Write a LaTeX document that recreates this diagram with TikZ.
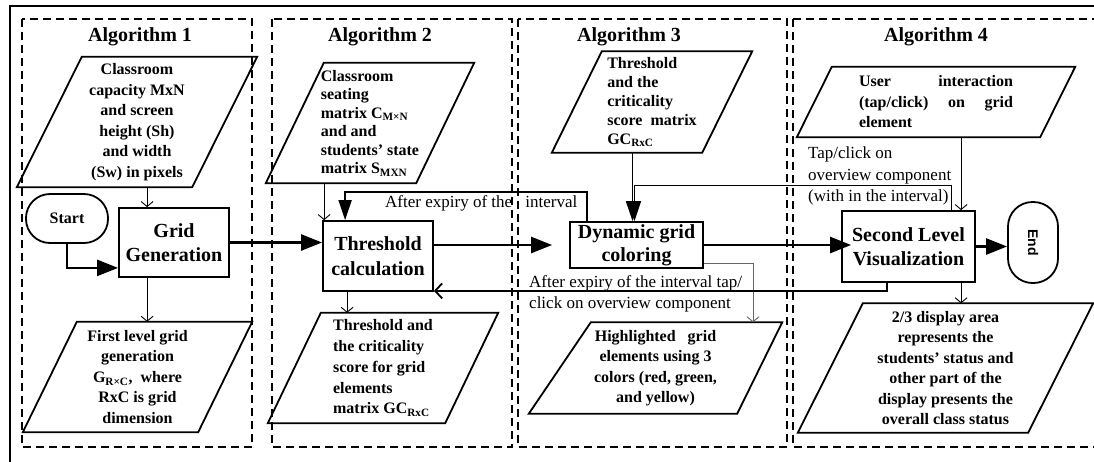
\documentclass[tikz,border=0pt]{standalone}
\usepackage{fontspec}
\setmainfont{Liberation Serif}
\newfontfamily\endfont{Liberation Sans}
\usetikzlibrary{arrows.meta}
\usetikzlibrary{calc}

\tikzset{
  panel/.style={draw, line width=1.2pt, dash pattern=on 8pt off 5pt},
  io/.style={inner sep=0pt, font=\bfseries\fontsize{16}{20.5}\selectfont, align=center},
  ioline/.style={line width=1.8pt, line join=miter},
  process/.style={draw, line width=1.8pt, font=\bfseries\fontsize{20}{24.5}\selectfont,
    align=center, inner sep=0pt},
  terminal/.style={draw, line width=1.8pt, inner sep=0pt},
  algtitle/.style={font=\bfseries\fontsize{20}{24}\selectfont},
  note/.style={font=\fontsize{17}{21.5}\selectfont, align=left, inner sep=0pt},
  flowline/.style={line width=2.5pt, -{Triangle[length=21pt,width=16pt]}},
  feedline/.style={line width=1.8pt, -{Triangle[length=20pt,width=13pt]}},
  tapline/.style={line width=1.2pt, -{Triangle[length=20pt,width=13pt]}},
  dataline/.style={line width=0.9pt, -{Straight Barb[length=5pt,width=12pt]}},
  loopline/.style={line width=1.8pt, -{Straight Barb[length=7pt,width=15pt]}},
  greyline/.style={line width=0.9pt, black!60, -{Straight Barb[length=5pt,width=12pt]}},
}

\begin{document}
\begin{tikzpicture}[x=1pt, y=-1pt]
  \useasboundingbox (0,0) rectangle (1094,461);
  \clip (0,0) rectangle (1094,461);
  \fill[white] (0,0) rectangle (1094,461);

  % frame and the four algorithm panels
  \draw[line width=2pt] (10,6) rectangle (1110,475);
  \foreach \xa/\xb in {22/252, 272/512, 518/787, 793/1110}
    \draw[panel] (\xa,19) rectangle (\xb,447);

  \node[algtitle] (t1) at (140,37) {Algorithm 1};
  \node[algtitle] (t2) at (380,37) {Algorithm 2};
  \node[algtitle] (t3) at (629,37) {Algorithm 3};
  \node[algtitle] (t4) at (936,37) {Algorithm 4};

  % Algorithm 1
  \node[io, minimum width=240pt, minimum height=130pt] (in1) at (137,122)
    {Classroom\\capacity MxN\\and screen\\height (Sh)\\and width\\(Sw) in pixels};
  \draw[ioline] ([xshift=65pt]in1.north west) -- (in1.north east)
    -- ([xshift=-65pt]in1.south east) -- (in1.south west) -- cycle;
  \node[terminal, minimum width=82pt, minimum height=49pt, rounded corners=24pt,
    font=\bfseries\fontsize{16}{19}\selectfont] (start) at (67,218.5) {Start};
  \node[process, minimum width=110pt, minimum height=69pt] (grid) at (174,242.5) {Grid\\Generation};
  \node[io, minimum width=229pt, minimum height=110pt] (out1) at (137.5,377)
    {First level grid\\generation\\G\textsubscript{R×C},\ \ where\\RxC is grid\\dimension};
  \draw[ioline] ([xshift=54pt]out1.north west) -- (out1.north east)
    -- ([xshift=-54pt]out1.south east) -- (out1.south west) -- cycle;

  % Algorithm 2
  \node[io, align=left, font=\bfseries\fontsize{16}{18.5}\selectfont,
    minimum width=208pt, minimum height=120pt] (in2) at (370,123)
    {Classroom\\seating\\matrix C\textsubscript{M×N}\\and and\\students’ state\\matrix S\textsubscript{MXN}};
  \draw[ioline] ([xshift=58pt]in2.north west) -- (in2.north east)
    -- ([xshift=-58pt]in2.south east) -- (in2.south west) -- cycle;
  \node[process, minimum width=110pt, minimum height=70pt] (thr) at (378,256) {Threshold\\calculation};
  \node[io, align=left, font=\bfseries\fontsize{16}{20.8}\selectfont,
    minimum width=230pt, minimum height=110pt] (out2) at (383,368)
    {Threshold and\\the criticality\\score for grid\\elements\\matrix GC\textsubscript{RxC}};
  \draw[ioline] ([xshift=53pt]out2.north west) -- (out2.north east)
    -- ([xshift=-53pt]out2.south east) -- (out2.south west) -- cycle;

  % Algorithm 3
  \node[io, align=left, font=\bfseries\fontsize{16}{19}\selectfont,
    minimum width=200pt, minimum height=101pt] (in3) at (652,102)
    {Threshold\\and the\\criticality\\score\ \ matrix\\GC\textsubscript{RxC}};
  \draw[ioline] ([xshift=50pt]in3.north west) -- (in3.north east)
    -- ([xshift=-50pt]in3.south east) -- (in3.south west) -- cycle;
  \node[process, minimum width=133pt, minimum height=46pt, font=\bfseries\fontsize{20}{23}\selectfont]
    (dyn) at (636.5,245) {Dynamic grid\\coloring};
  \node[io, minimum width=253pt, minimum height=91pt] (out3) at (655.5,368)
    {Highlighted\ \ \ grid\\elements using 3\\colors (red, green,\\and yellow)};
  \draw[ioline] ([xshift=62pt]out3.north west) -- (out3.north east)
    -- ([xshift=-45pt]out3.south east) -- (out3.south west) -- cycle;

  % Algorithm 4
  \node[io, minimum width=278pt, minimum height=70pt] (in4) at (936,102)
    {\parbox{154pt}{User \hfill interaction\\(tap/click) \hfill on \hfill grid\\element}};
  \draw[ioline] ([xshift=35pt]in4.north west) -- (in4.north east)
    -- ([xshift=-35pt]in4.south east) -- (in4.south west) -- cycle;
  \node[process, minimum width=133pt, minimum height=71pt] (sec) at (908.5,246.5) {Second Level\\Visualization};
  \node[terminal, minimum width=50pt, minimum height=81pt, rounded corners=24.5pt,
    font=\endfont\bfseries\fontsize{14}{16}\selectfont] (stop) at (1033,242.5) {\rotatebox{-90}{End}};
  \node[io, minimum width=295pt, minimum height=129pt] (out4) at (945.5,368)
    {2/3 display area\\represents the\\students’ status and\\other part of the\\display presents the\\overall class status};
  \draw[ioline] ([xshift=65pt]out4.north west) -- (out4.north east)
    -- ([xshift=-65pt]out4.south east) -- (out4.south west) -- cycle;

  % connectors
  \coordinate (g1n) at ([xshift=29pt]grid.north west);
  \coordinate (g1s) at ([xshift=29pt]grid.south west);
  \coordinate (t2n) at ([xshift=2pt]thr.north west);
  \coordinate (t2s) at ([xshift=25pt]thr.south west);
  \coordinate (d3n) at ([xshift=-4pt]dyn.north);
  \coordinate (s4n) at ([xshift=120pt]sec.north west);
  \coordinate (s4s) at ([xshift=120pt]sec.south west);

  \draw[flowline] (start.south) |- ([yshift=10pt]grid.south west);
  \draw[dataline] (in1.south -| g1n) -- (g1n);
  \draw[dataline] (g1s) -- (g1s |- out1.north);
  \draw[flowline] (grid.east) -- (grid.east -| thr.west);

  \draw[dataline] (in2.south -| t2n) -- (t2n);
  \draw[dataline] (t2s) -- (t2s |- out2.north);
  \draw[flowline, shorten >=17pt] (dyn.west -| thr.east) -- (dyn.west);

  \draw[feedline] (in3.south -| d3n) -- (d3n);
  \draw[feedline] ([xshift=18pt]dyn.north west) -- ++(0,-29) -| ([xshift=23pt]thr.north west);
  \draw[tapline] ([xshift=110pt]sec.north west) -- ++(0,-25) -| ([xshift=-2pt]dyn.north);
  \draw[flowline, shorten >=-10pt] (dyn.east) -- (dyn.east -| sec.west);
  \draw[greyline] ([yshift=5pt]dyn.south east) -| ([xshift=97.5pt]out3.north);

  \draw[dataline] (in4.south -| s4n) -- (s4n);
  \draw[dataline] (s4s) -- (s4s |- out4.north);
  \draw[flowline] (sec.east) -- (sec.east -| stop.west);
  \draw[loopline] ([xshift=46pt]sec.south west) |- ([yshift=1pt]thr.south east);

  % connector labels
  \node[note, anchor=west] (lb1) at (385,203) {After expiry of the\hspace{9pt} interval};
  \node[note, anchor=west] (lb2) at (529,294) {After expiry of the interval tap/\\click on overview component};
  \node[note, anchor=west] (lb3) at (808,176) {Tap/click on\\overview component\\(with in the interval)};
\end{tikzpicture}
\end{document}
